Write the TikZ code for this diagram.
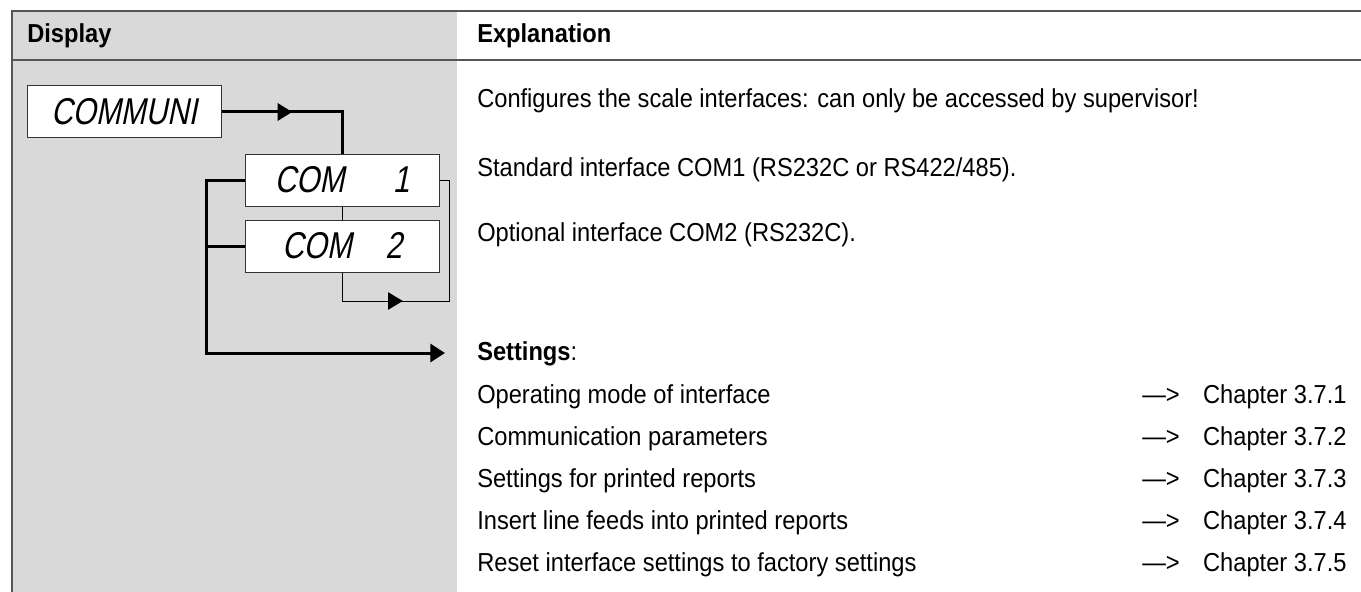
\documentclass[tikz,border=0pt]{standalone}
\usepackage{fontspec}
\setmainfont{Liberation Sans}[FakeStretch=0.91]
\newfontfamily\segfont{Liberation Sans}[FakeSlant=0.2,FakeStretch=0.8]
\usetikzlibrary{arrows.meta,decorations.markings}
\definecolor{panelgray}{HTML}{D9D9D9}
\definecolor{rulegray}{HTML}{555555}
\tikzset{
  disp/.style={draw=black!80,line width=0.75pt,fill=white,inner sep=0pt,
    minimum width=145.5pt,minimum height=39pt,
    font=\segfont\fontsize{28}{28}\selectfont},
  txt/.style={anchor=base west,inner sep=0pt,font=\fontsize{19.5}{20}\selectfont},
  head/.style={txt,font=\bfseries\fontsize{19.5}{20}\selectfont},
  bigline/.style={line width=2.25pt},
  smallline/.style={line width=0.75pt},
  midtip/.style={postaction={decorate,decoration={markings,
    mark=at position #1 with {\arrow{Triangle[length=11pt,width=13pt]}}}}}
}

\begin{document}
\begin{tikzpicture}[x=0.75pt,y=-0.75pt]
\useasboundingbox (0,0) rectangle (1361,592);
\fill[panelgray] (12,11) rectangle (457,592);
\draw[rulegray,line width=1.5pt] (1361,11) -- (12,11) -- (12,592);
\draw[rulegray,line width=1.5pt] (12,60) -- (1361,60);
\node[head] (hdisp) at (27,43) {Display};
\node[head] (hexpl) at (477,43) {Explanation};

\node[disp] (communi) at (124,112) {COMMUNI};
\node[disp] (com1) at (342,180) {COM\hspace{1.3em}1};
\node[disp] (com2) at (342,246) {COM\hspace{0.9em}2};
\coordinate (settings) at (445,353);

\draw[bigline,midtip=53pt] (communi.east) -| (com1.north);
\draw[smallline] (com1.south) -- (com2.north);
\draw[smallline,midtip=67pt] (com2.south) |- (449,301) |- (com1.east);
\draw[bigline] (com2.west) -- ++(-38,0);
\draw[bigline,-{Triangle[length=11pt,width=13.5pt]}] (com1.west) -- ++(-38,0) |- (settings);

\node[txt] (conf) at (477,108) {Configures the scale interfaces: can only be accessed by supervisor!};
\node[txt] (std) at (477,176) {Standard interface COM1 (RS232C or RS422/485).};
\node[txt] (opt) at (477,241) {Optional interface COM2 (RS232C).};
\node[txt] (sett) at (477,360) {\textbf{Settings}:};
\node[txt] (s1) at (477,403) {Operating mode of interface};
\node[txt] (s2) at (477,445) {Communication parameters};
\node[txt] (s3) at (477,487) {Settings for printed reports};
\node[txt] (s4) at (477,529) {Insert line feeds into printed reports};
\node[txt] (s5) at (477,571) {Reset interface settings to factory settings};
\node[txt] (c1) at (1142,403) {--->\hspace{0.9em}Chapter 3.7.1};
\node[txt] (c2) at (1142,445) {--->\hspace{0.9em}Chapter 3.7.2};
\node[txt] (c3) at (1142,487) {--->\hspace{0.9em}Chapter 3.7.3};
\node[txt] (c4) at (1142,529) {--->\hspace{0.9em}Chapter 3.7.4};
\node[txt] (c5) at (1142,571) {--->\hspace{0.9em}Chapter 3.7.5};
\end{tikzpicture}
\end{document}
